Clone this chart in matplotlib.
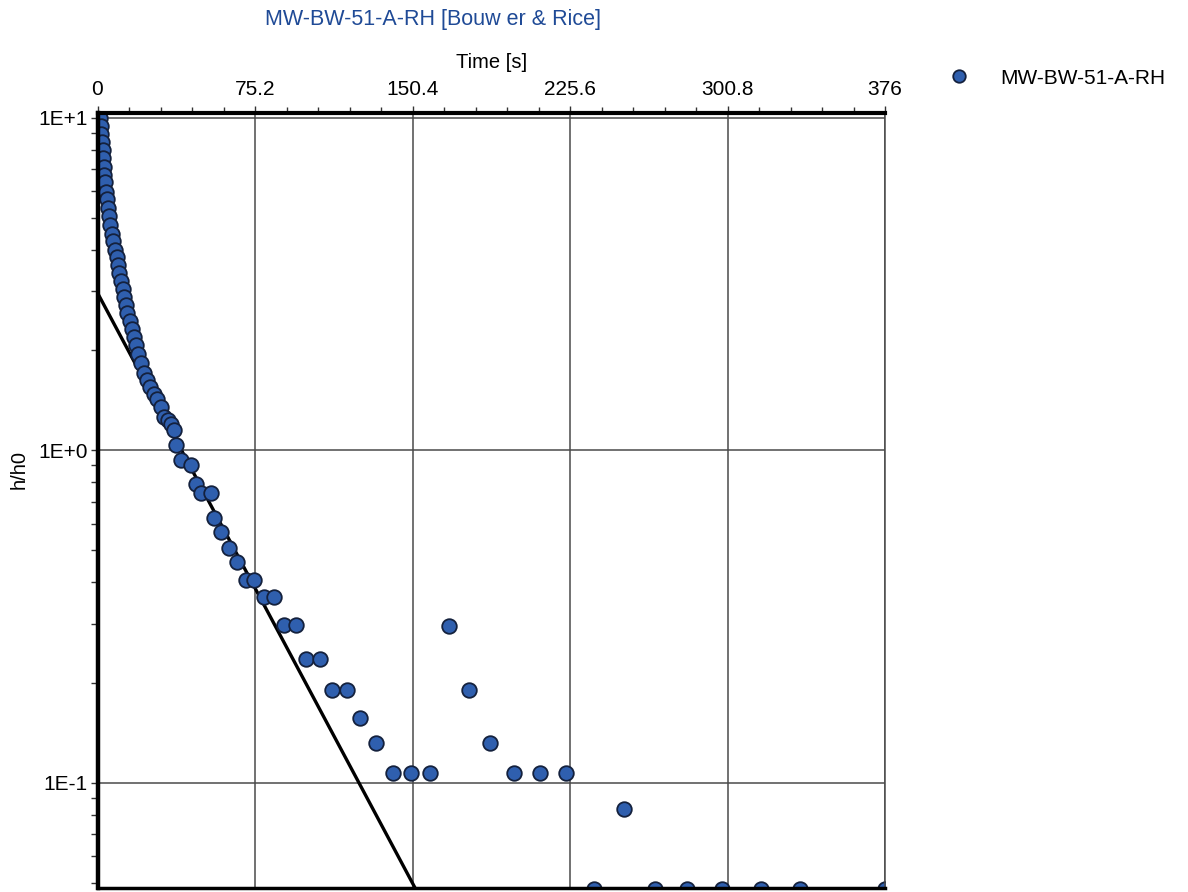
import matplotlib
matplotlib.use("Agg")
import matplotlib.pyplot as plt
from matplotlib.ticker import FixedLocator, FixedFormatter, LogLocator, NullFormatter, AutoMinorLocator
from matplotlib.lines import Line2D

plt.rcParams['font.family'] = ['Liberation Sans', 'DejaVu Sans']

# ---- data ----
time_s = [1.4, 1.7, 1.9, 2.2, 2.4, 2.6, 3.1, 3.3, 3.7, 4.1,
          4.5, 5.0, 5.5, 6.2, 6.9, 7.6, 8.4, 9.1, 9.8, 10.5,
          11.2, 12.0, 12.7, 13.4, 14.3, 15.3, 16.3, 17.2, 18.2, 19.4,
          20.6, 22.0, 23.7, 25.3, 26.8, 28.4, 30.1, 31.8, 33.5, 34.9,
          36.5, 37.5, 39.7, 44.5, 46.8, 49.2, 54.0, 55.6, 58.8, 62.8,
          66.8, 70.7, 74.7, 79.5, 84.3, 88.9, 94.6, 99.7, 106.1, 112.1,
          119.0, 125.4, 133.2, 141.0, 149.5, 158.7, 168.0, 177.5, 187.5, 199.0,
          211.4, 223.9, 237.2, 251.2, 266.3, 281.6, 298.1, 316.6, 335.5, 376.0]
h_h0 = [10.0, 9.46, 8.95, 8.47, 8.01, 7.58, 7.12, 6.74, 6.38, 5.99,
        5.67, 5.33, 5.04, 4.74, 4.48, 4.24, 4.01, 3.80, 3.59, 3.40,
        3.22, 3.05, 2.88, 2.73, 2.58, 2.44, 2.31, 2.19, 2.07, 1.95,
        1.83, 1.71, 1.62, 1.55, 1.47, 1.42, 1.35, 1.26, 1.23, 1.20,
        1.15, 1.035, 0.933, 0.901, 0.790, 0.743, 0.743, 0.624, 0.568, 0.507,
        0.462, 0.407, 0.407, 0.361, 0.361, 0.298, 0.298, 0.236, 0.236, 0.190,
        0.190, 0.156, 0.1315, 0.107, 0.107, 0.107, 0.296, 0.190, 0.1315, 0.107,
        0.107, 0.107, 0.048, 0.0834, 0.048, 0.048, 0.048, 0.048, 0.048, 0.048]

fit_t = [0.0, 160.0]
fit_h = [2.97, 0.0384]

x_ticks = [0, 75.2, 150.4, 225.6, 300.8, 376]
x_tick_labels = ['0', '75.2', '150.4', '225.6', '300.8', '376']
y_ticks = [0.1, 1.0, 10.0]
y_tick_labels = ['1E-1', '1E+0', '1E+1']

series_name = 'MW-BW-51-A-RH'
title_text = 'MW-BW-51-A-RH [Bouw er & Rice]'

# ---- figure ----
W, H = 1188, 892
fig = plt.figure(figsize=(W / 100, H / 100), dpi=100)
ax = fig.add_axes([97.5 / W, 1 - 888 / H, (885 - 97.5) / W, (888 - 113) / H])

ax.set_yscale('log')
ax.set_xlim(0, 376)
ax.set_ylim(0.0482, 10.32)

grid_col = '#4a4a4a'
for xv in x_ticks:
    ax.axvline(xv, color=grid_col, lw=1.1, zorder=1)
for yv in y_ticks:
    ax.axhline(yv, color=grid_col, lw=1.1, zorder=1)

ax.plot(fit_t, fit_h, color='black', lw=2.4, zorder=3, solid_capstyle='butt')
ax.plot(time_s, h_h0, linestyle='none', marker='o', markersize=10.5,
        markerfacecolor='#2f5fae', markeredgecolor='#14213d', markeredgewidth=1.3,
        zorder=4, label=series_name)

# axes / ticks
ax.xaxis.tick_top()
ax.xaxis.set_label_position('top')
ax.xaxis.set_major_locator(FixedLocator(x_ticks))
ax.xaxis.set_major_formatter(FixedFormatter(x_tick_labels))
ax.xaxis.set_minor_locator(AutoMinorLocator(5))
ax.yaxis.set_major_locator(FixedLocator(y_ticks))
ax.yaxis.set_major_formatter(FixedFormatter(y_tick_labels))
ax.yaxis.set_minor_locator(LogLocator(base=10, subs=[2, 3, 4, 5, 6, 7, 8, 9]))
ax.yaxis.set_minor_formatter(NullFormatter())

ax.tick_params(axis='x', which='major', direction='out', length=5, width=1, color='#333333',
               labelsize=15, pad=5)
ax.tick_params(axis='x', which='minor', direction='out', length=4, width=1, color='#333333')
ax.tick_params(axis='y', which='major', direction='out', length=5, width=1, color='#333333',
               labelsize=15, pad=2)
ax.tick_params(axis='y', which='minor', direction='out', length=5, width=1, color='#333333')

ax.set_xlabel('Time [s]', fontsize=14.5, labelpad=9)

for side in ['left', 'top', 'bottom']:
    ax.spines[side].set_color('black')
ax.spines['left'].set_linewidth(3.2)
ax.spines['top'].set_linewidth(3.0)
ax.spines['bottom'].set_linewidth(2.5)
ax.spines['right'].set_color(grid_col)
ax.spines['right'].set_linewidth(1.1)
for s in ax.spines.values():
    s.set_zorder(5)

fig.text(19 / W, 1 - 470 / H, 'h/h0', fontsize=14.5, rotation=90,
         ha='center', va='center')

fig.text(433 / W, 1 - 19 / H, title_text, color='#1f4a96', fontsize=15.5,
         ha='center', va='center')

handle = Line2D([], [], linestyle='none', marker='o', markersize=9,
                markerfacecolor='#2f5fae', markeredgecolor='#14213d', markeredgewidth=1.3)
fig.legend([handle], [series_name], loc='center left',
           bbox_to_anchor=(936 / W, 1 - 78 / H), frameon=False, fontsize=15,
           handlelength=1.2, handletextpad=1.4, borderpad=0)

fig.savefig('out.png', dpi=100)
